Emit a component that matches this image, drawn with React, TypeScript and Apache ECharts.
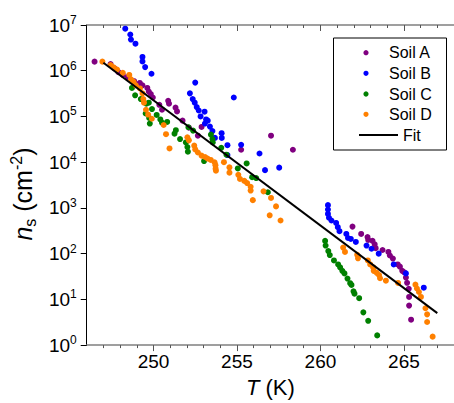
import React, { useEffect, useRef } from "react";
import * as echarts from "echarts";

const soilA: number[][] = [
  [246.47, 1.58e6], [247.43, 1.4e6], [247.66, 1.13e6], [247.9, 9.3e5], [248.16, 8.1e5], [248.45, 7.3e5],
  [248.84, 5.9e5], [249.18, 5.4e5], [249.34, 4.8e5], [249.63, 4.2e5], [249.72, 3.5e5], [249.84, 3.1e5],
  [249.96, 2.6e5], [250.35, 1.8e5], [250.51, 1.4e5], [250.88, 2.2e5], [250.93, 1.9e5], [251.32, 1.56e5],
  [251.41, 1.29e5], [251.74, 8.1e4], [252.12, 5.7e4], [252.66, 3.8e4], [252.88, 5.9e4], [255.25, 1.87e4],
  [257.04, 3.8e4], [258.35, 1.87e4],
  [261.92, 390], [262.44, 270], [262.82, 230], [262.86, 200], [263.12, 190], [263.25, 160], [263.31, 132],
  [263.72, 120], [264.07, 109], [264.16, 91], [264.34, 78], [264.63, 58], [264.76, 52], [264.9, 42],
  [265.02, 39], [265.12, 30], [265.19, 23], [265.29, 17], [265.31, 11.3], [265.31, 7.3], [265.43, 3.6],
];

const soilB: number[][] = [
  [248.31, 8.3e6], [248.61, 6.2e6], [248.65, 4.8e6], [248.92, 3.9e6], [249.34, 2.0e6], [249.34, 1.6e6],
  [249.5, 1.2e6], [249.88, 8.6e5], [252.5, 5.5e5], [252.18, 3.2e5], [252.35, 2.4e5], [252.47, 2.0e5],
  [252.59, 1.6e5], [252.71, 1.35e5], [252.82, 1.0e5], [253.06, 1.27e5], [253.15, 8.6e4], [253.25, 8.1e4],
  [253.08, 7.0e4], [253.38, 6.0e4], [253.53, 4.8e4], [253.68, 3.4e4], [254.08, 4.3e4], [254.09, 3.4e4],
  [254.81, 2.6e5], [254.43, 2.35e4], [254.43, 1.43e4], [255.25, 2.4e4], [256.35, 1.55e4], [256.68, 6.7e3],
  [257.53, 7.6e3],
  [260.45, 1150], [260.45, 920], [260.45, 740], [260.51, 610], [260.66, 530], [260.94, 470], [261.04, 380],
  [261.14, 310], [261.55, 270], [261.65, 220], [261.82, 210], [262.12, 180], [262.76, 150], [263.06, 128],
  [263.49, 100], [264.39, 58], [265.12, 37], [266.19, 18],
];

const soilC: number[][] = [
  [248.71, 4.2e5], [248.9, 2.9e5], [249.24, 2.4e5], [249.57, 1.9e5], [249.72, 2.0e5], [249.53, 1.16e5],
  [249.91, 1.45e5], [249.74, 9.3e4], [249.78, 7.0e4], [250.19, 1.08e5], [250.41, 8.6e4], [250.51, 7.3e4],
  [250.82, 7.6e4], [251.26, 4.2e4], [251.34, 5.0e4], [251.59, 3.2e4], [252.09, 5.8e4], [252.37, 4.9e4],
  [251.94, 2.7e4], [252.03, 2.15e4], [252.06, 1.7e4], [253.03, 1.06e4], [253.44, 4.0e4], [253.53, 3.2e4],
  [253.55, 2.7e4], [254.06, 2.06e4], [254.37, 1.46e4], [255.58, 9.4e3], [255.05, 7.3e3], [255.91, 4.7e3],
  [256.15, 4.5e3], [256.85, 2.2e3],
  [260.28, 190], [260.31, 150], [260.47, 114], [260.56, 93], [260.81, 71], [261.06, 58], [261.18, 50],
  [261.31, 42], [261.44, 37], [261.62, 28.5], [261.78, 22.6], [261.86, 20.7], [261.98, 15], [262.04, 13.3],
  [262.32, 10.6], [262.57, 5.2], [262.86, 3.4], [263.4, 1.63],
];

const soilD: number[][] = [
  [246.94, 1.58e6], [247.43, 1.33e6], [247.61, 1.19e6], [247.82, 1.06e6], [248.16, 9.0e5], [248.55, 8.1e5],
  [248.65, 6.5e5], [248.81, 5.7e5], [248.94, 4.8e5], [249.19, 4.1e5], [249.34, 3.2e5], [249.39, 2.4e5],
  [249.43, 2.0e5], [249.55, 1.4e5], [249.68, 1.1e5], [249.9, 8.9e4], [250.61, 6.5e4], [250.75, 4.1e4],
  [250.96, 2.0e4], [252.03, 3.5e4], [252.12, 3.0e4], [252.44, 2.3e4], [252.5, 1.9e4], [252.66, 1.63e4],
  [252.88, 1.39e4], [253.09, 1.3e4], [253.24, 1.2e4], [253.43, 1.12e4], [253.66, 9.95e3], [253.71, 8.6e3],
  [253.72, 7.2e3], [253.74, 6.5e3], [254.22, 1.0e4], [254.55, 7.7e3], [254.55, 5.9e3], [255.08, 5.3e3],
  [255.18, 4.3e3], [255.44, 3.9e3], [255.61, 3.5e3], [255.82, 2.9e3], [255.82, 2.4e3], [255.95, 1.48e3],
  [256.59, 2.3e3], [257.04, 1.65e3], [257.34, 1.08e3], [256.96, 690], [257.61, 530],
  [261.36, 136], [261.47, 109], [262.2, 94], [262.25, 79], [262.84, 71], [262.98, 58], [263.16, 50],
  [263.19, 42], [263.37, 38], [263.51, 34], [263.57, 29], [263.92, 25.6], [264.65, 22.9], [265.69, 21],
  [265.78, 17.3], [265.9, 14.5], [266.02, 11.3], [266.29, 6.4], [266.39, 4.7], [266.39, 3.2], [266.72, 1.53],
];

const fitLine: number[][] = [[247, 1.5e6], [267, 5]];

const seriesNames = ["Soil A", "Soil B", "Soil C", "Soil D"];
const seriesColors = ["#800080", "#0000ff", "#008000", "#ff8000"];
const majorTicksX = [250, 255, 260, 265];
const minorTicksX = [247, 248, 249, 251, 252, 253, 254, 256, 257, 258, 259, 261, 262, 263, 264, 266, 267];

const FONT = "Liberation Sans, Arial, sans-serif";

export default function App() {
  const ref = useRef<HTMLDivElement>(null);
  useEffect(() => {
    if (!ref.current) return;
    const chart = echarts.init(ref.current, null, { renderer: "svg" });
    const gridX = { min: 246, max: 268, type: "value" as const, splitLine: { show: false } };
    const legendRows = [52.7, 73.3, 94, 114.3];
    const graphic: any[] = [
      { type: "rect", shape: { x: 333.5, y: 38, width: 113, height: 112 }, style: { fill: "#fff", stroke: "#000", lineWidth: 1 }, z: 100 },
    ];
    seriesNames.forEach((nm, i) => {
      graphic.push({ type: "circle", shape: { cx: 366, cy: legendRows[i], r: 2.6 }, style: { fill: seriesColors[i] }, z: 101 });
      graphic.push({ type: "text", x: 389, y: legendRows[i], style: { text: nm, fontSize: 16, fontFamily: FONT, fill: "#000", verticalAlign: "middle", align: "left" }, z: 101 });
    });
    graphic.push({ type: "line", shape: { x1: 359, y1: 135, x2: 398, y2: 135 }, style: { stroke: "#000", lineWidth: 2 }, z: 101 });
    graphic.push({ type: "text", x: 403, y: 135, style: { text: "Fit", fontSize: 16, fontFamily: FONT, fill: "#000", verticalAlign: "middle", align: "left" }, z: 101 });

    chart.setOption({
      animation: false,
      backgroundColor: "#fff",
      grid: { left: 85, top: 25, width: 374, height: 327.5, containLabel: false },
      xAxis: [
        {
          ...gridX,
          position: "bottom",
          axisLine: { show: true, lineStyle: { color: "#808080", width: 1.5 } },
          axisTick: { show: true, customValues: majorTicksX, length: 6, lineStyle: { color: "#555" } },
          axisLabel: { customValues: majorTicksX, fontSize: 19, fontFamily: FONT, color: "#000", margin: 7 },
          name: "{i|T} (K)",
          nameLocation: "middle",
          nameGap: 25,
          nameTextStyle: {
            fontSize: 22, fontFamily: FONT, color: "#000",
            rich: { i: { fontSize: 22, fontFamily: FONT, fontStyle: "italic", color: "#000" } },
          },
        },
        {
          ...gridX,
          position: "bottom",
          axisLine: { show: false },
          axisTick: { show: true, customValues: minorTicksX, length: 3, lineStyle: { color: "#555" } },
          axisLabel: { show: false },
        },
        {
          ...gridX,
          position: "top",
          axisLine: { show: true, lineStyle: { color: "#808080", width: 1.5 } },
          axisTick: { show: true, inside: true, customValues: majorTicksX, length: 6, lineStyle: { color: "#555" } },
          axisLabel: { show: false },
        },
        {
          ...gridX,
          position: "top",
          axisLine: { show: false },
          axisTick: { show: true, inside: true, customValues: minorTicksX, length: 3, lineStyle: { color: "#555" } },
          axisLabel: { show: false },
        },
      ],
      yAxis: {
        type: "log",
        logBase: 10,
        min: 1,
        max: 1e7,
        splitNumber: 7,
        splitLine: { show: false },
        axisLine: { show: true, lineStyle: { color: "#000", width: 1 } },
        axisTick: { show: true, length: 6, lineStyle: { color: "#000" } },
        axisLabel: {
          margin: 10,
          formatter: (v: number) => `{b|10}{s|${Math.round(Math.log10(v))}}`,
          rich: {
            b: { fontSize: 19, fontFamily: FONT, color: "#000", lineHeight: 22 },
            s: { fontSize: 12, fontFamily: FONT, color: "#000", verticalAlign: "top", lineHeight: 12 },
          },
        },
        name: "{i|n}{sub|s}{t| (cm}{sup|-2}{t|)}",
        nameLocation: "middle",
        nameGap: 44,
        nameRotate: 90,
        nameTextStyle: {
          padding: [0, 18, 0, 0],
          rich: {
            i: { fontSize: 25, fontFamily: FONT, fontStyle: "italic", color: "#000", lineHeight: 30 },
            sub: { fontSize: 16, fontFamily: FONT, color: "#000", verticalAlign: "bottom", lineHeight: 16 },
            t: { fontSize: 25, fontFamily: FONT, color: "#000", lineHeight: 30 },
            sup: { fontSize: 16, fontFamily: FONT, color: "#000", verticalAlign: "top", lineHeight: 16 },
          },
        },
      },
      series: [
        ...[soilA, soilB, soilC, soilD].map((d, i) => ({
          name: seriesNames[i],
          type: "scatter",
          data: d,
          symbol: "circle",
          symbolSize: 6,
          itemStyle: { color: seriesColors[i], opacity: 1 },
          xAxisIndex: 0,
        })),
        {
          name: "Fit",
          type: "line",
          data: fitLine,
          showSymbol: false,
          symbol: "none",
          lineStyle: { color: "#000", width: 2 },
          xAxisIndex: 0,
          z: 10,
        },
      ],
      graphic,
    });
    return () => chart.dispose();
  }, []);
  return <div ref={ref} style={{ position: "fixed", left: 0, top: 0, width: 454, height: 403 }} />;
}
